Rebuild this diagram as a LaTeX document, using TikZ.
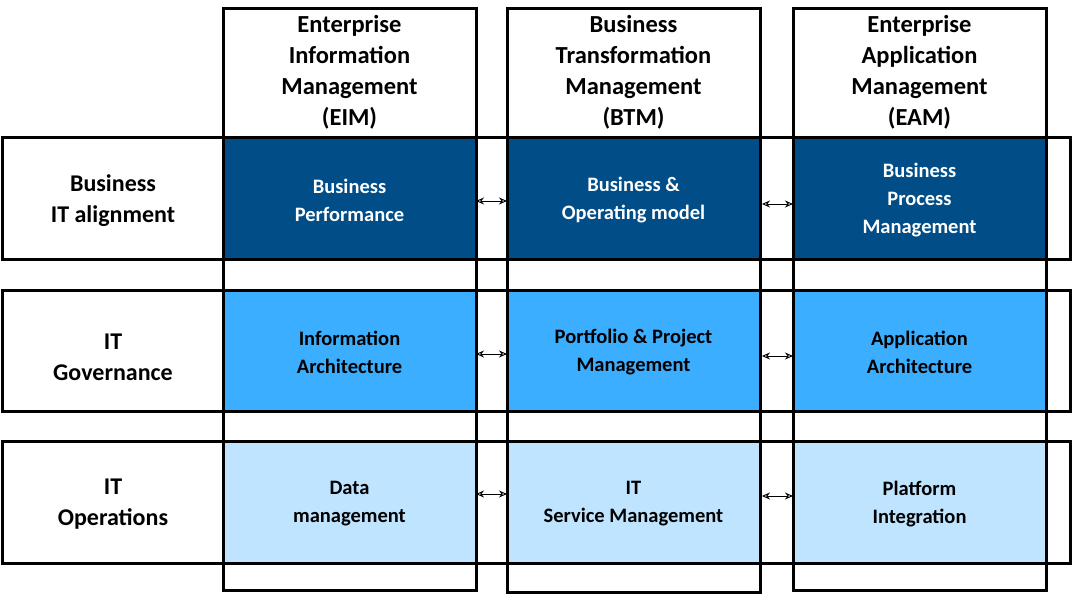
\documentclass[tikz,border=0pt]{standalone}
\usepackage{fontspec}
\setmainfont{Carlito}
\usetikzlibrary{arrows.meta}
\begin{document}
\begin{tikzpicture}[x=1pt,y=-1pt,
  box/.style={draw=black,line width=3pt},
  hd/.style={align=center,font=\bfseries\fontsize{24.5}{31}\selectfont},
  cell/.style={align=center,font=\bfseries\fontsize{20.5}{28}\selectfont},
  rl/.style={align=center,font=\bfseries\fontsize{24}{31}\selectfont},
  arr/.style={{Stealth[length=8pt,width=7pt,open]}-{Stealth[length=8pt,width=7pt,open]},line width=0.9pt}]
\useasboundingbox (0,0) rectangle (1072,594);
\definecolor{c1}{HTML}{004D87}
\definecolor{c2}{HTML}{3BAEFF}
\definecolor{c3}{HTML}{BFE4FF}
% fills
\foreach \xa/\xb in {223/476,507/760,793/1046}{
  \fill[c1] (\xa,137) rectangle (\xb,259);
  \fill[c2] (\xa,290) rectangle (\xb,411);
  \fill[c3] (\xa,441) rectangle (\xb,563);
}
% rows
\draw[box] (2,137) rectangle (1070,259);
\draw[box] (2,290) rectangle (1070,411);
\draw[box] (2,441) rectangle (1070,563);
% columns
\draw[box] (223,9) rectangle (476,590);
\draw[box] (507,9) rectangle (760,592);
\draw[box] (793,9) rectangle (1046,590);
% headers
\node[hd] (h1) at (349.5,72) {Enterprise\\Information\\Management\\(EIM)};
\node[hd] (h2) at (633.5,72) {Business\\Transformation\\Management\\(BTM)};
\node[hd] (h3) at (919.5,72) {Enterprise\\Application\\Management\\(EAM)};
% row labels
\node[rl] (r1) at (113,201) {Business\\IT alignment};
\node[rl] (r2) at (113,357) {IT\\Governance};
\node[rl] (r3) at (113,504) {IT\\Operations};
% cells
\node[cell,text=white] (a1) at (349.5,200) {Business\\Performance};
\node[cell,text=white] (b1) at (633.5,200) {Business \&\\Operating model};
\node[cell,text=white] (c1n) at (919.5,200) {Business\\Process\\Management};
\node[cell] (a2) at (349.5,352) {Information\\Architecture};
\node[cell] (b2) at (633.5,352) {Portfolio \& Project\\Management};
\node[cell] (c2n) at (919.5,352) {Application\\Architecture};
\node[cell] (a3) at (349.5,504) {Data\\management};
\node[cell] (b3) at (633.5,504) {IT\\Service Management};
\node[cell] (c3n) at (919.5,504) {Platform\\Integration};
% arrows
\coordinate (p1) at (476,201); \coordinate (q1) at (507,201);
\coordinate (p2) at (762,204); \coordinate (q2) at (793,204);
\coordinate (p3) at (476,354); \coordinate (q3) at (507,354);
\coordinate (p4) at (762,356); \coordinate (q4) at (793,356);
\coordinate (p5) at (476,494); \coordinate (q5) at (507,494);
\coordinate (p6) at (762,496); \coordinate (q6) at (793,496);
\foreach \i in {1,...,6}{\draw[arr] (p\i) -- (q\i);}
\end{tikzpicture}
\end{document}
